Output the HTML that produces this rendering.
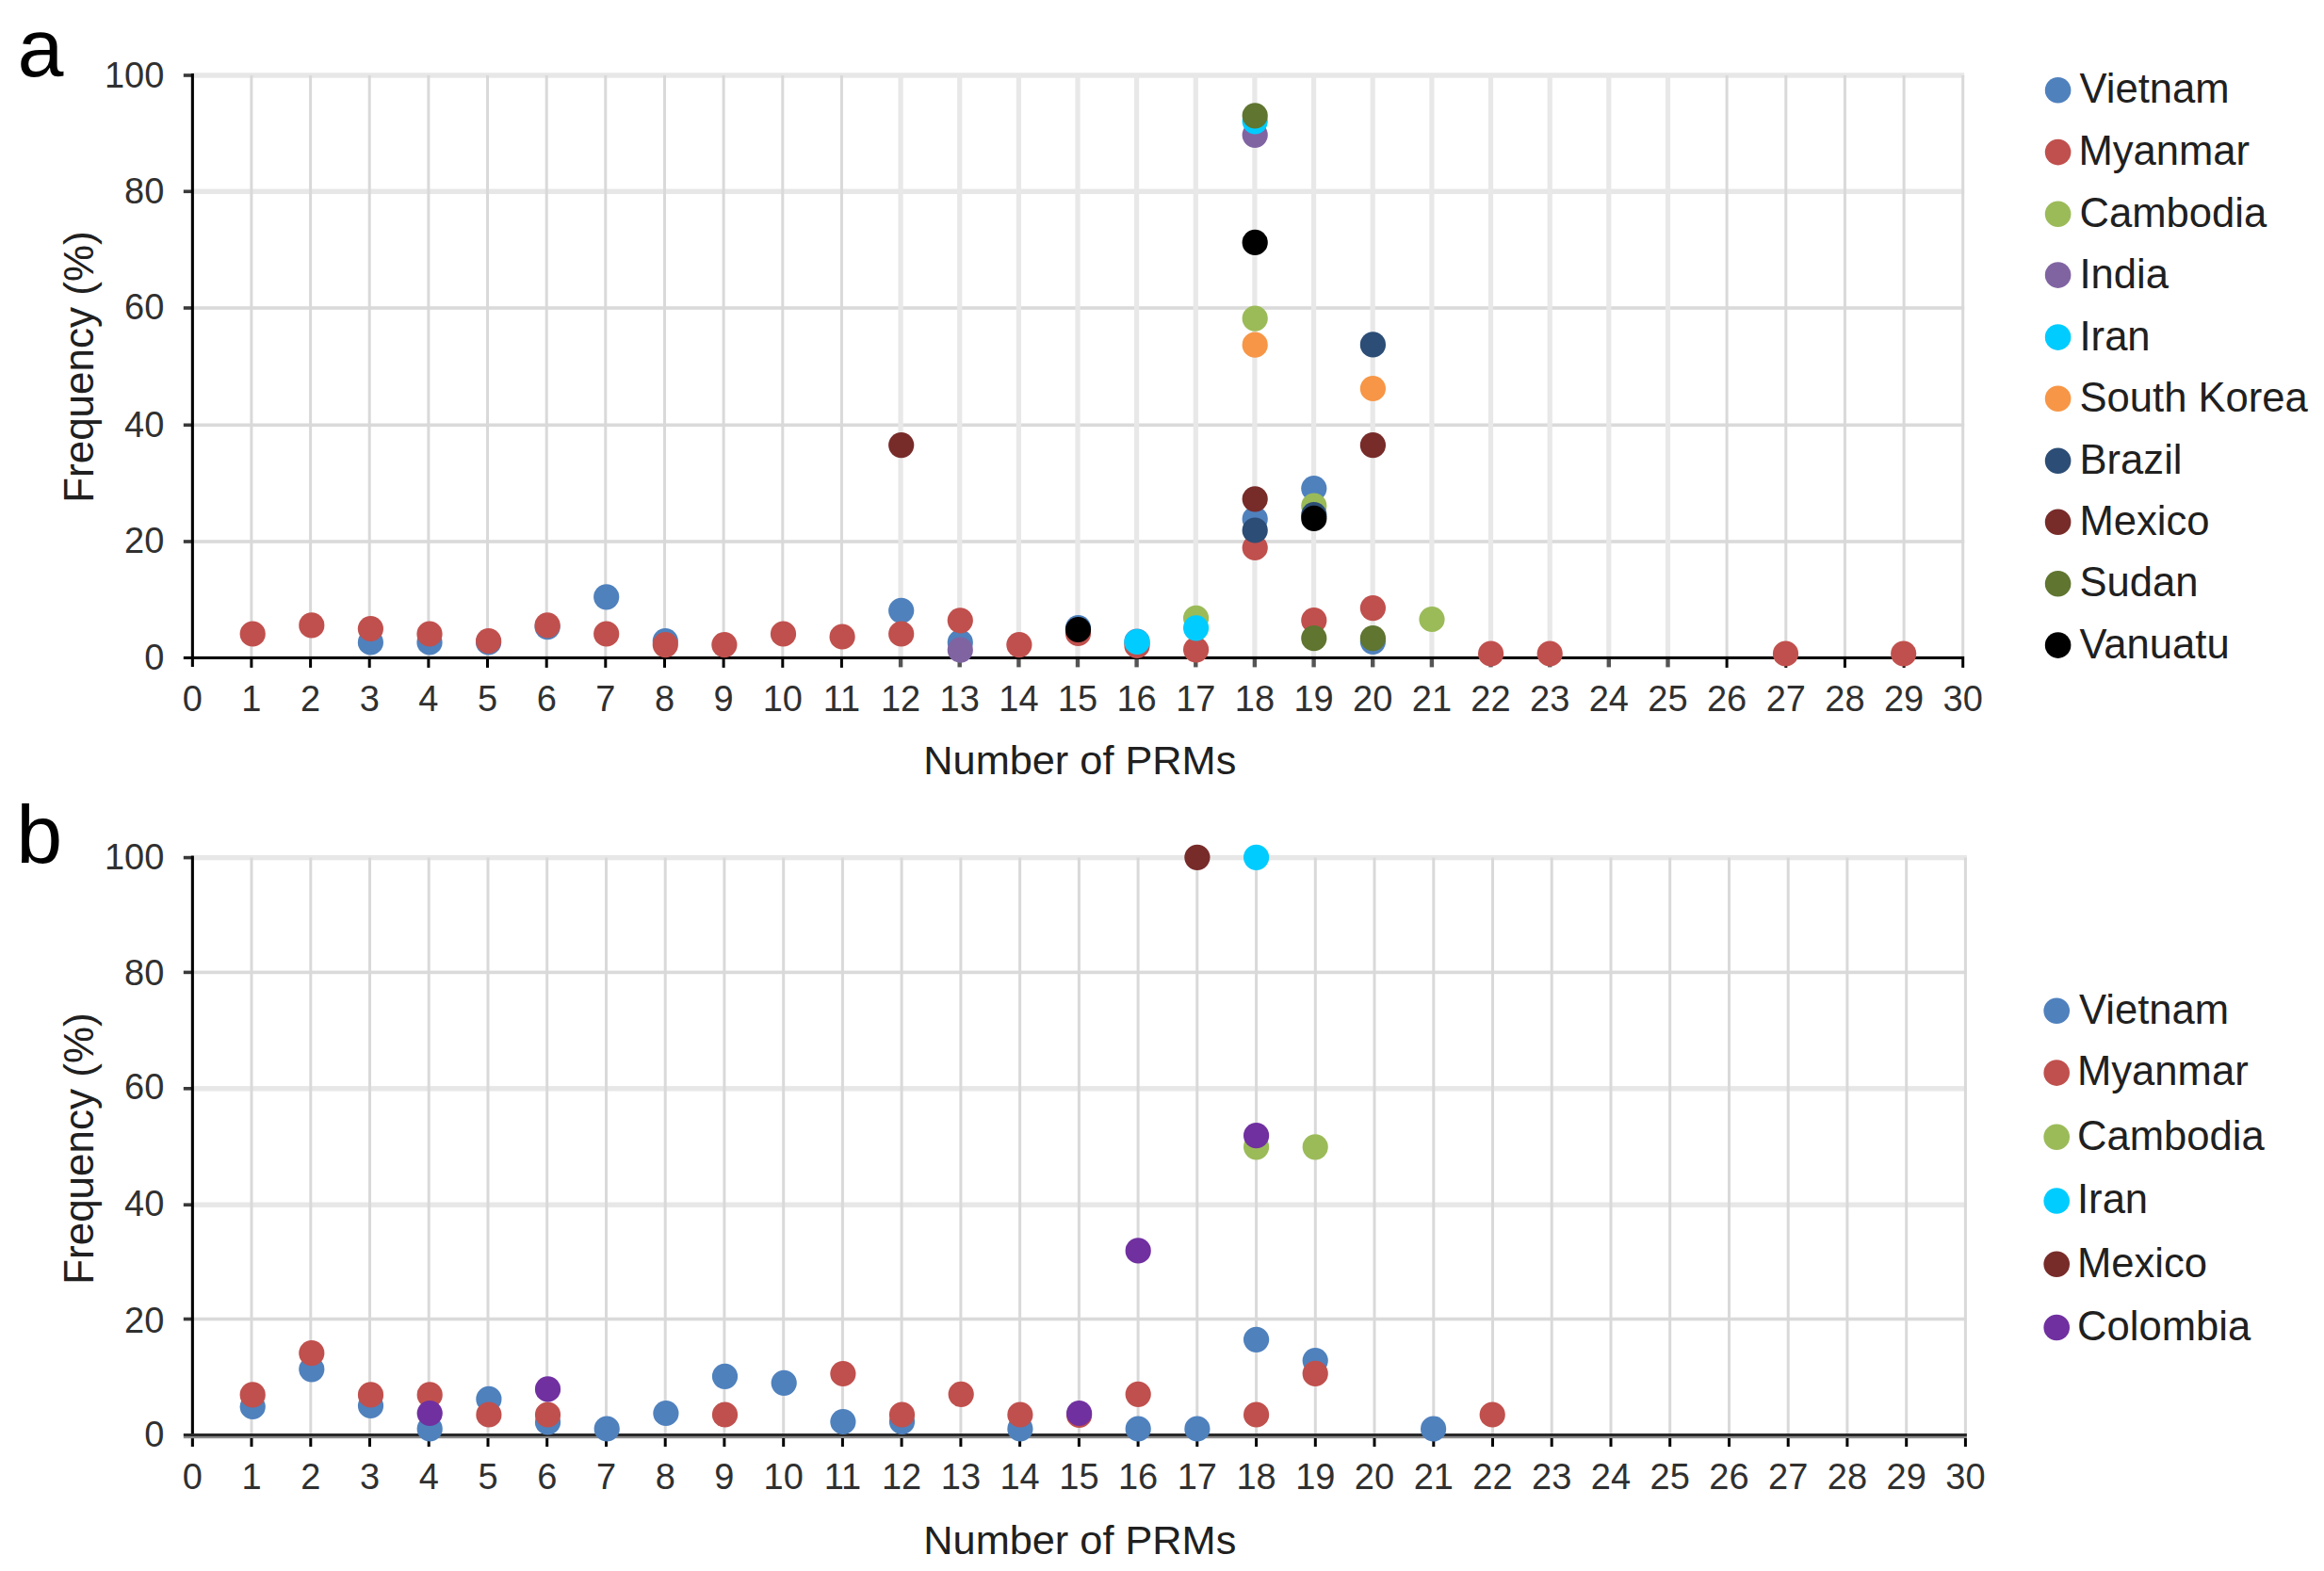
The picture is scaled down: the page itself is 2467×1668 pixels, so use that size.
<!DOCTYPE html>
<html lang="en"><head><meta charset="utf-8"><title>PRM frequency</title>
<style>html,body{margin:0;padding:0;background:#fff}svg{display:block}</style>
</head><body>
<svg width="2467" height="1668" viewBox="0 0 2467 1668" font-family="'Liberation Sans', sans-serif">
<rect width="2467" height="1668" fill="#ffffff"/>
<g id="grid-a">
<rect x="204.3" y="77.3" width="1880.9" height="5.4" fill="#e7e7e7"/>
<rect x="204.3" y="200.6" width="1880.9" height="5.4" fill="#e7e7e7"/>
<rect x="204.3" y="325.2" width="1880.9" height="3.6" fill="#dadada"/>
<rect x="204.3" y="449.5" width="1880.9" height="3.6" fill="#dadada"/>
<rect x="204.3" y="573.2" width="1880.9" height="3.6" fill="#dadada"/>
<rect x="265.4" y="80.0" width="3" height="618.4" fill="#d9d9d9"/>
<rect x="328.1" y="80.0" width="3" height="618.4" fill="#d9d9d9"/>
<rect x="390.7" y="80.0" width="3" height="618.4" fill="#d9d9d9"/>
<rect x="453.4" y="80.0" width="3" height="618.4" fill="#d9d9d9"/>
<rect x="516.0" y="80.0" width="3" height="618.4" fill="#d9d9d9"/>
<rect x="578.7" y="80.0" width="3" height="618.4" fill="#d9d9d9"/>
<rect x="641.3" y="80.0" width="3" height="618.4" fill="#d9d9d9"/>
<rect x="704.0" y="80.0" width="3" height="618.4" fill="#d9d9d9"/>
<rect x="766.6" y="80.0" width="3" height="618.4" fill="#d9d9d9"/>
<rect x="829.3" y="80.0" width="3" height="618.4" fill="#d9d9d9"/>
<rect x="891.9" y="80.0" width="3" height="618.4" fill="#d9d9d9"/>
<rect x="953.5" y="80.0" width="5.2" height="618.4" fill="#e8e8e8"/>
<rect x="1016.1" y="80.0" width="5.2" height="618.4" fill="#e8e8e8"/>
<rect x="1078.8" y="80.0" width="5.2" height="618.4" fill="#e8e8e8"/>
<rect x="1141.4" y="80.0" width="5.2" height="618.4" fill="#e8e8e8"/>
<rect x="1204.0" y="80.0" width="5.2" height="618.4" fill="#e8e8e8"/>
<rect x="1266.7" y="80.0" width="5.2" height="618.4" fill="#e8e8e8"/>
<rect x="1329.3" y="80.0" width="5.2" height="618.4" fill="#e8e8e8"/>
<rect x="1392.0" y="80.0" width="5.2" height="618.4" fill="#e8e8e8"/>
<rect x="1454.6" y="80.0" width="5.2" height="618.4" fill="#e8e8e8"/>
<rect x="1517.3" y="80.0" width="5.2" height="618.4" fill="#e8e8e8"/>
<rect x="1579.9" y="80.0" width="5.2" height="618.4" fill="#e8e8e8"/>
<rect x="1642.6" y="80.0" width="5.2" height="618.4" fill="#e8e8e8"/>
<rect x="1705.2" y="80.0" width="5.2" height="618.4" fill="#e8e8e8"/>
<rect x="1767.9" y="80.0" width="5.2" height="618.4" fill="#e8e8e8"/>
<rect x="1831.6" y="80.0" width="3" height="618.4" fill="#d9d9d9"/>
<rect x="1894.3" y="80.0" width="3" height="618.4" fill="#d9d9d9"/>
<rect x="1956.9" y="80.0" width="3" height="618.4" fill="#d9d9d9"/>
<rect x="2019.6" y="80.0" width="3" height="618.4" fill="#d9d9d9"/>
<rect x="2082.2" y="80.0" width="3" height="618.4" fill="#d9d9d9"/>
</g>
<g id="axes-a">
<rect x="194.8" y="78.2" width="10" height="3.6" fill="#3a3a3a"/>
<rect x="194.8" y="201.5" width="10" height="3.6" fill="#3a3a3a"/>
<rect x="194.8" y="325.2" width="10" height="3.6" fill="#3a3a3a"/>
<rect x="194.8" y="449.5" width="10" height="3.6" fill="#3a3a3a"/>
<rect x="194.8" y="573.2" width="10" height="3.6" fill="#3a3a3a"/>
<rect x="202.8" y="78.0" width="3.1" height="630.0" fill="#000"/>
<rect x="194.8" y="696.9" width="1890.4" height="3.1" fill="#000"/>
<rect x="265.4" y="699.9" width="3" height="9" fill="#000"/>
<rect x="328.1" y="699.9" width="3" height="9" fill="#000"/>
<rect x="390.7" y="699.9" width="3" height="9" fill="#000"/>
<rect x="453.4" y="699.9" width="3" height="9" fill="#000"/>
<rect x="516.0" y="699.9" width="3" height="9" fill="#000"/>
<rect x="578.7" y="699.9" width="3" height="9" fill="#000"/>
<rect x="641.3" y="699.9" width="3" height="9" fill="#000"/>
<rect x="704.0" y="699.9" width="3" height="9" fill="#000"/>
<rect x="766.6" y="699.9" width="3" height="9" fill="#000"/>
<rect x="829.3" y="699.9" width="3" height="9" fill="#000"/>
<rect x="891.9" y="699.9" width="3" height="9" fill="#000"/>
<rect x="953.9" y="699.9" width="4.4" height="8.5" fill="#555"/>
<rect x="1016.5" y="699.9" width="4.4" height="8.5" fill="#555"/>
<rect x="1079.2" y="699.9" width="4.4" height="8.5" fill="#555"/>
<rect x="1141.8" y="699.9" width="4.4" height="8.5" fill="#555"/>
<rect x="1204.4" y="699.9" width="4.4" height="8.5" fill="#555"/>
<rect x="1267.1" y="699.9" width="4.4" height="8.5" fill="#555"/>
<rect x="1329.7" y="699.9" width="4.4" height="8.5" fill="#555"/>
<rect x="1392.4" y="699.9" width="4.4" height="8.5" fill="#555"/>
<rect x="1455.0" y="699.9" width="4.4" height="8.5" fill="#555"/>
<rect x="1517.7" y="699.9" width="4.4" height="8.5" fill="#555"/>
<rect x="1580.3" y="699.9" width="4.4" height="8.5" fill="#555"/>
<rect x="1643.0" y="699.9" width="4.4" height="8.5" fill="#555"/>
<rect x="1705.6" y="699.9" width="4.4" height="8.5" fill="#555"/>
<rect x="1768.3" y="699.9" width="4.4" height="8.5" fill="#555"/>
<rect x="1831.6" y="699.9" width="3" height="9" fill="#000"/>
<rect x="1894.3" y="699.9" width="3" height="9" fill="#000"/>
<rect x="1956.9" y="699.9" width="3" height="9" fill="#000"/>
<rect x="2019.6" y="699.9" width="3" height="9" fill="#000"/>
<rect x="2082.2" y="699.9" width="3" height="9" fill="#000"/>
</g>
<g id="grid-b">
<rect x="204.3" y="907.9" width="1883.6" height="5.4" fill="#e7e7e7"/>
<rect x="204.3" y="1030.6" width="1883.6" height="3.6" fill="#dadada"/>
<rect x="204.3" y="1153.1" width="1883.6" height="5.4" fill="#e7e7e7"/>
<rect x="204.3" y="1276.5" width="1883.6" height="5.4" fill="#e7e7e7"/>
<rect x="204.3" y="1398.7" width="1883.6" height="3.6" fill="#dadada"/>
<rect x="265.5" y="910.6" width="3" height="612.8" fill="#d9d9d9"/>
<rect x="328.3" y="910.6" width="3" height="612.8" fill="#d9d9d9"/>
<rect x="391.0" y="910.6" width="3" height="612.8" fill="#d9d9d9"/>
<rect x="453.7" y="910.6" width="3" height="612.8" fill="#d9d9d9"/>
<rect x="516.5" y="910.6" width="3" height="612.8" fill="#d9d9d9"/>
<rect x="579.2" y="910.6" width="3" height="612.8" fill="#d9d9d9"/>
<rect x="642.0" y="910.6" width="3" height="612.8" fill="#d9d9d9"/>
<rect x="704.7" y="910.6" width="3" height="612.8" fill="#d9d9d9"/>
<rect x="767.4" y="910.6" width="3" height="612.8" fill="#d9d9d9"/>
<rect x="830.2" y="910.6" width="3" height="612.8" fill="#d9d9d9"/>
<rect x="892.9" y="910.6" width="3" height="612.8" fill="#d9d9d9"/>
<rect x="955.6" y="910.6" width="3" height="612.8" fill="#d9d9d9"/>
<rect x="1018.4" y="910.6" width="3" height="612.8" fill="#d9d9d9"/>
<rect x="1081.1" y="910.6" width="3" height="612.8" fill="#d9d9d9"/>
<rect x="1143.9" y="910.6" width="3" height="612.8" fill="#d9d9d9"/>
<rect x="1206.6" y="910.6" width="3" height="612.8" fill="#d9d9d9"/>
<rect x="1269.3" y="910.6" width="3" height="612.8" fill="#d9d9d9"/>
<rect x="1332.1" y="910.6" width="3" height="612.8" fill="#d9d9d9"/>
<rect x="1394.8" y="910.6" width="3" height="612.8" fill="#d9d9d9"/>
<rect x="1457.5" y="910.6" width="3" height="612.8" fill="#d9d9d9"/>
<rect x="1520.3" y="910.6" width="3" height="612.8" fill="#d9d9d9"/>
<rect x="1583.0" y="910.6" width="3" height="612.8" fill="#d9d9d9"/>
<rect x="1645.7" y="910.6" width="3" height="612.8" fill="#d9d9d9"/>
<rect x="1708.5" y="910.6" width="3" height="612.8" fill="#d9d9d9"/>
<rect x="1771.2" y="910.6" width="3" height="612.8" fill="#d9d9d9"/>
<rect x="1834.0" y="910.6" width="3" height="612.8" fill="#d9d9d9"/>
<rect x="1896.7" y="910.6" width="3" height="612.8" fill="#d9d9d9"/>
<rect x="1959.4" y="910.6" width="3" height="612.8" fill="#d9d9d9"/>
<rect x="2022.2" y="910.6" width="3" height="612.8" fill="#d9d9d9"/>
<rect x="2084.9" y="910.6" width="3" height="612.8" fill="#d9d9d9"/>
</g>
<g id="axes-b">
<rect x="194.8" y="908.8" width="10" height="3.6" fill="#3a3a3a"/>
<rect x="194.8" y="1030.6" width="10" height="3.6" fill="#3a3a3a"/>
<rect x="194.8" y="1154.0" width="10" height="3.6" fill="#3a3a3a"/>
<rect x="194.8" y="1277.4" width="10" height="3.6" fill="#3a3a3a"/>
<rect x="194.8" y="1398.7" width="10" height="3.6" fill="#3a3a3a"/>
<rect x="202.8" y="908.6" width="3.1" height="627.4" fill="#000"/>
<rect x="194.8" y="1522.0" width="1893.1" height="3" fill="#2a2a2a"/>
<rect x="194.8" y="1525.0" width="1893.1" height="2.2" fill="#8a8a8a"/>
<rect x="265.5" y="1527" width="3" height="9" fill="#000"/>
<rect x="328.3" y="1527" width="3" height="9" fill="#000"/>
<rect x="391.0" y="1527" width="3" height="9" fill="#000"/>
<rect x="453.7" y="1527" width="3" height="9" fill="#000"/>
<rect x="516.5" y="1527" width="3" height="9" fill="#000"/>
<rect x="579.2" y="1527" width="3" height="9" fill="#000"/>
<rect x="642.0" y="1527" width="3" height="9" fill="#000"/>
<rect x="704.7" y="1527" width="3" height="9" fill="#000"/>
<rect x="767.4" y="1527" width="3" height="9" fill="#000"/>
<rect x="830.2" y="1527" width="3" height="9" fill="#000"/>
<rect x="892.9" y="1527" width="3" height="9" fill="#000"/>
<rect x="955.6" y="1527" width="3" height="9" fill="#000"/>
<rect x="1018.4" y="1527" width="3" height="9" fill="#000"/>
<rect x="1081.1" y="1527" width="3" height="9" fill="#000"/>
<rect x="1143.9" y="1527" width="3" height="9" fill="#000"/>
<rect x="1206.6" y="1527" width="3" height="9" fill="#000"/>
<rect x="1269.3" y="1527" width="3" height="9" fill="#000"/>
<rect x="1332.1" y="1527" width="3" height="9" fill="#000"/>
<rect x="1394.8" y="1527" width="3" height="9" fill="#000"/>
<rect x="1457.5" y="1527" width="3" height="9" fill="#000"/>
<rect x="1520.3" y="1527" width="3" height="9" fill="#000"/>
<rect x="1583.0" y="1527" width="3" height="9" fill="#000"/>
<rect x="1645.7" y="1527" width="3" height="9" fill="#000"/>
<rect x="1708.5" y="1527" width="3" height="9" fill="#000"/>
<rect x="1771.2" y="1527" width="3" height="9" fill="#000"/>
<rect x="1834.0" y="1527" width="3" height="9" fill="#000"/>
<rect x="1896.7" y="1527" width="3" height="9" fill="#000"/>
<rect x="1959.4" y="1527" width="3" height="9" fill="#000"/>
<rect x="2022.2" y="1527" width="3" height="9" fill="#000"/>
<rect x="2084.9" y="1527" width="3" height="9" fill="#000"/>
</g>
<g id="data-a">
<circle cx="393.4" cy="682.0" r="13.6" fill="#4f81bd"/>
<circle cx="456.0" cy="682.0" r="13.6" fill="#4f81bd"/>
<circle cx="518.6" cy="682.0" r="13.6" fill="#4f81bd"/>
<circle cx="581.1" cy="665.6" r="13.6" fill="#4f81bd"/>
<circle cx="643.7" cy="633.8" r="13.6" fill="#4f81bd"/>
<circle cx="706.3" cy="680.5" r="13.6" fill="#4f81bd"/>
<circle cx="956.7" cy="648.3" r="13.6" fill="#4f81bd"/>
<circle cx="1019.3" cy="682.0" r="13.6" fill="#4f81bd"/>
<circle cx="1144.5" cy="666.6" r="13.6" fill="#4f81bd"/>
<circle cx="1207.0" cy="681.0" r="13.6" fill="#4f81bd"/>
<circle cx="1332.2" cy="551.0" r="13.6" fill="#4f81bd"/>
<circle cx="1394.8" cy="518.6" r="13.6" fill="#4f81bd"/>
<circle cx="1457.4" cy="681.3" r="13.6" fill="#4f81bd"/>
<circle cx="268.2" cy="673.0" r="13.6" fill="#c0504d"/>
<circle cx="330.8" cy="663.9" r="13.6" fill="#c0504d"/>
<circle cx="393.4" cy="667.5" r="13.6" fill="#c0504d"/>
<circle cx="456.0" cy="673.0" r="13.6" fill="#c0504d"/>
<circle cx="518.6" cy="680.5" r="13.6" fill="#c0504d"/>
<circle cx="581.1" cy="663.9" r="13.6" fill="#c0504d"/>
<circle cx="643.7" cy="673.0" r="13.6" fill="#c0504d"/>
<circle cx="706.3" cy="684.6" r="13.6" fill="#c0504d"/>
<circle cx="768.9" cy="684.6" r="13.6" fill="#c0504d"/>
<circle cx="831.5" cy="673.0" r="13.6" fill="#c0504d"/>
<circle cx="894.1" cy="676.0" r="13.6" fill="#c0504d"/>
<circle cx="956.7" cy="673.0" r="13.6" fill="#c0504d"/>
<circle cx="1019.3" cy="658.8" r="13.6" fill="#c0504d"/>
<circle cx="1081.9" cy="684.6" r="13.6" fill="#c0504d"/>
<circle cx="1144.5" cy="672.5" r="13.6" fill="#c0504d"/>
<circle cx="1207.0" cy="685.4" r="13.6" fill="#c0504d"/>
<circle cx="1269.6" cy="689.8" r="13.6" fill="#c0504d"/>
<circle cx="1332.2" cy="581.5" r="13.6" fill="#c0504d"/>
<circle cx="1394.8" cy="658.7" r="13.6" fill="#c0504d"/>
<circle cx="1457.4" cy="645.6" r="13.6" fill="#c0504d"/>
<circle cx="1582.6" cy="694.0" r="13.6" fill="#c0504d"/>
<circle cx="1645.2" cy="694.0" r="13.6" fill="#c0504d"/>
<circle cx="1895.5" cy="694.0" r="13.6" fill="#c0504d"/>
<circle cx="2020.7" cy="694.0" r="13.6" fill="#c0504d"/>
<circle cx="1269.6" cy="656.3" r="13.6" fill="#9bbb59"/>
<circle cx="1332.2" cy="338.1" r="13.6" fill="#9bbb59"/>
<circle cx="1394.8" cy="537.0" r="13.6" fill="#9bbb59"/>
<circle cx="1520.0" cy="657.5" r="13.6" fill="#9bbb59"/>
<circle cx="1019.3" cy="690.1" r="13.6" fill="#8064a2"/>
<circle cx="1332.2" cy="143.3" r="13.6" fill="#8064a2"/>
<circle cx="1207.0" cy="681.5" r="13.6" fill="#00ccff"/>
<circle cx="1269.6" cy="666.8" r="13.6" fill="#00ccff"/>
<circle cx="1332.2" cy="128.8" r="13.6" fill="#00ccff"/>
<circle cx="1332.2" cy="366.2" r="13.6" fill="#f79646"/>
<circle cx="1457.4" cy="412.5" r="13.6" fill="#f79646"/>
<circle cx="1332.2" cy="563.0" r="13.6" fill="#2c4d75"/>
<circle cx="1394.8" cy="546.5" r="13.6" fill="#2c4d75"/>
<circle cx="1457.4" cy="365.9" r="13.6" fill="#2c4d75"/>
<circle cx="956.7" cy="472.6" r="13.6" fill="#772c2a"/>
<circle cx="1332.2" cy="529.8" r="13.6" fill="#772c2a"/>
<circle cx="1457.4" cy="472.7" r="13.6" fill="#772c2a"/>
<circle cx="1332.2" cy="122.8" r="13.6" fill="#5f7530"/>
<circle cx="1394.8" cy="677.7" r="13.6" fill="#5f7530"/>
<circle cx="1457.4" cy="677.7" r="13.6" fill="#5f7530"/>
<circle cx="1144.5" cy="668.5" r="13.6" fill="#000000"/>
<circle cx="1332.2" cy="257.4" r="13.6" fill="#000000"/>
<circle cx="1394.8" cy="550.4" r="13.6" fill="#000000"/>
</g>
<g id="data-b">
<circle cx="268.2" cy="1493.5" r="13.6" fill="#4f81bd"/>
<circle cx="330.8" cy="1453.8" r="13.6" fill="#4f81bd"/>
<circle cx="393.5" cy="1492.5" r="13.6" fill="#4f81bd"/>
<circle cx="456.2" cy="1517.0" r="13.6" fill="#4f81bd"/>
<circle cx="518.9" cy="1485.4" r="13.6" fill="#4f81bd"/>
<circle cx="581.5" cy="1510.0" r="13.6" fill="#4f81bd"/>
<circle cx="644.2" cy="1517.0" r="13.6" fill="#4f81bd"/>
<circle cx="706.9" cy="1500.5" r="13.6" fill="#4f81bd"/>
<circle cx="769.5" cy="1461.3" r="13.6" fill="#4f81bd"/>
<circle cx="832.2" cy="1468.3" r="13.6" fill="#4f81bd"/>
<circle cx="894.9" cy="1509.5" r="13.6" fill="#4f81bd"/>
<circle cx="957.5" cy="1509.5" r="13.6" fill="#4f81bd"/>
<circle cx="1082.9" cy="1517.0" r="13.6" fill="#4f81bd"/>
<circle cx="1208.2" cy="1517.0" r="13.6" fill="#4f81bd"/>
<circle cx="1270.9" cy="1517.0" r="13.6" fill="#4f81bd"/>
<circle cx="1333.6" cy="1422.3" r="13.6" fill="#4f81bd"/>
<circle cx="1396.2" cy="1444.6" r="13.6" fill="#4f81bd"/>
<circle cx="1521.6" cy="1517.0" r="13.6" fill="#4f81bd"/>
<circle cx="268.2" cy="1480.9" r="13.6" fill="#c0504d"/>
<circle cx="330.8" cy="1436.7" r="13.6" fill="#c0504d"/>
<circle cx="393.5" cy="1480.9" r="13.6" fill="#c0504d"/>
<circle cx="456.2" cy="1480.9" r="13.6" fill="#c0504d"/>
<circle cx="518.9" cy="1502.0" r="13.6" fill="#c0504d"/>
<circle cx="581.5" cy="1502.0" r="13.6" fill="#c0504d"/>
<circle cx="769.5" cy="1502.0" r="13.6" fill="#c0504d"/>
<circle cx="894.9" cy="1458.5" r="13.6" fill="#c0504d"/>
<circle cx="957.5" cy="1502.0" r="13.6" fill="#c0504d"/>
<circle cx="1020.2" cy="1480.3" r="13.6" fill="#c0504d"/>
<circle cx="1082.9" cy="1502.0" r="13.6" fill="#c0504d"/>
<circle cx="1145.6" cy="1502.5" r="13.6" fill="#c0504d"/>
<circle cx="1208.2" cy="1480.3" r="13.6" fill="#c0504d"/>
<circle cx="1333.6" cy="1502.0" r="13.6" fill="#c0504d"/>
<circle cx="1396.2" cy="1458.4" r="13.6" fill="#c0504d"/>
<circle cx="1584.2" cy="1502.0" r="13.6" fill="#c0504d"/>
<circle cx="1333.6" cy="1217.8" r="13.6" fill="#9bbb59"/>
<circle cx="1396.2" cy="1217.8" r="13.6" fill="#9bbb59"/>
<circle cx="1333.6" cy="910.3" r="13.6" fill="#00ccff"/>
<circle cx="1270.9" cy="910.3" r="13.6" fill="#772c2a"/>
<circle cx="456.2" cy="1500.5" r="13.6" fill="#7030a0"/>
<circle cx="581.5" cy="1474.9" r="13.6" fill="#7030a0"/>
<circle cx="1145.6" cy="1500.5" r="13.6" fill="#7030a0"/>
<circle cx="1208.2" cy="1327.9" r="13.6" fill="#7030a0"/>
<circle cx="1333.6" cy="1205.7" r="13.6" fill="#7030a0"/>
</g>
<g id="ticklabels" font-size="38" fill="#303030">
<text x="174.3" y="93.0" text-anchor="end">100</text>
<text x="174.3" y="216.3" text-anchor="end">80</text>
<text x="174.3" y="339.2" text-anchor="end">60</text>
<text x="174.3" y="463.8" text-anchor="end">40</text>
<text x="174.3" y="587.0" text-anchor="end">20</text>
<text x="174.3" y="711.0" text-anchor="end">0</text>
<text x="174.3" y="923.0" text-anchor="end">100</text>
<text x="174.3" y="1045.7" text-anchor="end">80</text>
<text x="174.3" y="1167.0" text-anchor="end">60</text>
<text x="174.3" y="1290.5" text-anchor="end">40</text>
<text x="174.3" y="1414.9" text-anchor="end">20</text>
<text x="174.3" y="1536.4" text-anchor="end">0</text>
<text x="204.3" y="754.5" text-anchor="middle">0</text>
<text x="266.9" y="754.5" text-anchor="middle">1</text>
<text x="329.6" y="754.5" text-anchor="middle">2</text>
<text x="392.2" y="754.5" text-anchor="middle">3</text>
<text x="454.9" y="754.5" text-anchor="middle">4</text>
<text x="517.5" y="754.5" text-anchor="middle">5</text>
<text x="580.2" y="754.5" text-anchor="middle">6</text>
<text x="642.8" y="754.5" text-anchor="middle">7</text>
<text x="705.5" y="754.5" text-anchor="middle">8</text>
<text x="768.1" y="754.5" text-anchor="middle">9</text>
<text x="830.8" y="754.5" text-anchor="middle">10</text>
<text x="893.4" y="754.5" text-anchor="middle">11</text>
<text x="956.1" y="754.5" text-anchor="middle">12</text>
<text x="1018.7" y="754.5" text-anchor="middle">13</text>
<text x="1081.4" y="754.5" text-anchor="middle">14</text>
<text x="1144.0" y="754.5" text-anchor="middle">15</text>
<text x="1206.6" y="754.5" text-anchor="middle">16</text>
<text x="1269.3" y="754.5" text-anchor="middle">17</text>
<text x="1331.9" y="754.5" text-anchor="middle">18</text>
<text x="1394.6" y="754.5" text-anchor="middle">19</text>
<text x="1457.2" y="754.5" text-anchor="middle">20</text>
<text x="1519.9" y="754.5" text-anchor="middle">21</text>
<text x="1582.5" y="754.5" text-anchor="middle">22</text>
<text x="1645.2" y="754.5" text-anchor="middle">23</text>
<text x="1707.8" y="754.5" text-anchor="middle">24</text>
<text x="1770.5" y="754.5" text-anchor="middle">25</text>
<text x="1833.1" y="754.5" text-anchor="middle">26</text>
<text x="1895.8" y="754.5" text-anchor="middle">27</text>
<text x="1958.4" y="754.5" text-anchor="middle">28</text>
<text x="2021.1" y="754.5" text-anchor="middle">29</text>
<text x="2083.7" y="754.5" text-anchor="middle">30</text>
<text x="204.3" y="1581.2" text-anchor="middle">0</text>
<text x="267.0" y="1581.2" text-anchor="middle">1</text>
<text x="329.8" y="1581.2" text-anchor="middle">2</text>
<text x="392.5" y="1581.2" text-anchor="middle">3</text>
<text x="455.2" y="1581.2" text-anchor="middle">4</text>
<text x="518.0" y="1581.2" text-anchor="middle">5</text>
<text x="580.7" y="1581.2" text-anchor="middle">6</text>
<text x="643.5" y="1581.2" text-anchor="middle">7</text>
<text x="706.2" y="1581.2" text-anchor="middle">8</text>
<text x="768.9" y="1581.2" text-anchor="middle">9</text>
<text x="831.7" y="1581.2" text-anchor="middle">10</text>
<text x="894.4" y="1581.2" text-anchor="middle">11</text>
<text x="957.1" y="1581.2" text-anchor="middle">12</text>
<text x="1019.9" y="1581.2" text-anchor="middle">13</text>
<text x="1082.6" y="1581.2" text-anchor="middle">14</text>
<text x="1145.4" y="1581.2" text-anchor="middle">15</text>
<text x="1208.1" y="1581.2" text-anchor="middle">16</text>
<text x="1270.8" y="1581.2" text-anchor="middle">17</text>
<text x="1333.6" y="1581.2" text-anchor="middle">18</text>
<text x="1396.3" y="1581.2" text-anchor="middle">19</text>
<text x="1459.0" y="1581.2" text-anchor="middle">20</text>
<text x="1521.8" y="1581.2" text-anchor="middle">21</text>
<text x="1584.5" y="1581.2" text-anchor="middle">22</text>
<text x="1647.2" y="1581.2" text-anchor="middle">23</text>
<text x="1710.0" y="1581.2" text-anchor="middle">24</text>
<text x="1772.7" y="1581.2" text-anchor="middle">25</text>
<text x="1835.5" y="1581.2" text-anchor="middle">26</text>
<text x="1898.2" y="1581.2" text-anchor="middle">27</text>
<text x="1960.9" y="1581.2" text-anchor="middle">28</text>
<text x="2023.7" y="1581.2" text-anchor="middle">29</text>
<text x="2086.4" y="1581.2" text-anchor="middle">30</text>
</g>
<g id="titles" font-size="43.3" fill="#202020">
<text x="1146.3" y="822.4" text-anchor="middle">Number of PRMs</text>
<text x="1146.3" y="1649.7" text-anchor="middle">Number of PRMs</text>
<text transform="translate(99.3,389.6) rotate(-90)" text-anchor="middle" font-size="44">Frequency (%)</text>
<text transform="translate(99.3,1219.6) rotate(-90)" text-anchor="middle" font-size="44">Frequency (%)</text>
</g>
<g id="panel" font-size="88" fill="#000">
<text x="18.5" y="81.3">a</text>
<text x="17.2" y="915.5">b</text>
</g>
<g id="legend-a" font-size="43.6" fill="#202020">
<circle cx="2184.6" cy="95.8" r="13.8" fill="#4f81bd"/>
<text x="2207.5" y="109.2">Vietnam</text>
<circle cx="2184.6" cy="161.6" r="13.8" fill="#c0504d"/>
<text x="2206.4" y="175.0">Myanmar</text>
<circle cx="2184.6" cy="227.2" r="13.8" fill="#9bbb59"/>
<text x="2207.5" y="240.6">Cambodia</text>
<circle cx="2184.6" cy="292.1" r="13.8" fill="#8064a2"/>
<text x="2207.5" y="305.5">India</text>
<circle cx="2184.6" cy="358.1" r="13.8" fill="#00ccff"/>
<text x="2207.5" y="371.5">Iran</text>
<circle cx="2184.6" cy="423.3" r="13.8" fill="#f79646"/>
<text x="2207.5" y="436.7">South Korea</text>
<circle cx="2184.6" cy="489.3" r="13.8" fill="#2c4d75"/>
<text x="2207.5" y="502.7">Brazil</text>
<circle cx="2184.6" cy="554.3" r="13.8" fill="#772c2a"/>
<text x="2207.5" y="567.7">Mexico</text>
<circle cx="2184.6" cy="619.8" r="13.8" fill="#5f7530"/>
<text x="2207.5" y="633.2">Sudan</text>
<circle cx="2184.6" cy="685.1" r="13.8" fill="#000000"/>
<text x="2207.5" y="698.5">Vanuatu</text>
</g>
<g id="legend-b" font-size="43.6" fill="#202020">
<circle cx="2183.2" cy="1073.2" r="13.8" fill="#4f81bd"/>
<text x="2207.0" y="1086.5">Vietnam</text>
<circle cx="2183.2" cy="1139.1" r="13.8" fill="#c0504d"/>
<text x="2205.0" y="1152.4">Myanmar</text>
<circle cx="2183.2" cy="1207.2" r="13.8" fill="#9bbb59"/>
<text x="2205.0" y="1220.5">Cambodia</text>
<circle cx="2183.2" cy="1275.0" r="13.8" fill="#00ccff"/>
<text x="2205.0" y="1288.3">Iran</text>
<circle cx="2183.2" cy="1342.2" r="13.8" fill="#772c2a"/>
<text x="2205.0" y="1355.5">Mexico</text>
<circle cx="2183.2" cy="1409.5" r="13.8" fill="#7030a0"/>
<text x="2205.0" y="1422.8">Colombia</text>
</g>
</svg>
</body></html>
